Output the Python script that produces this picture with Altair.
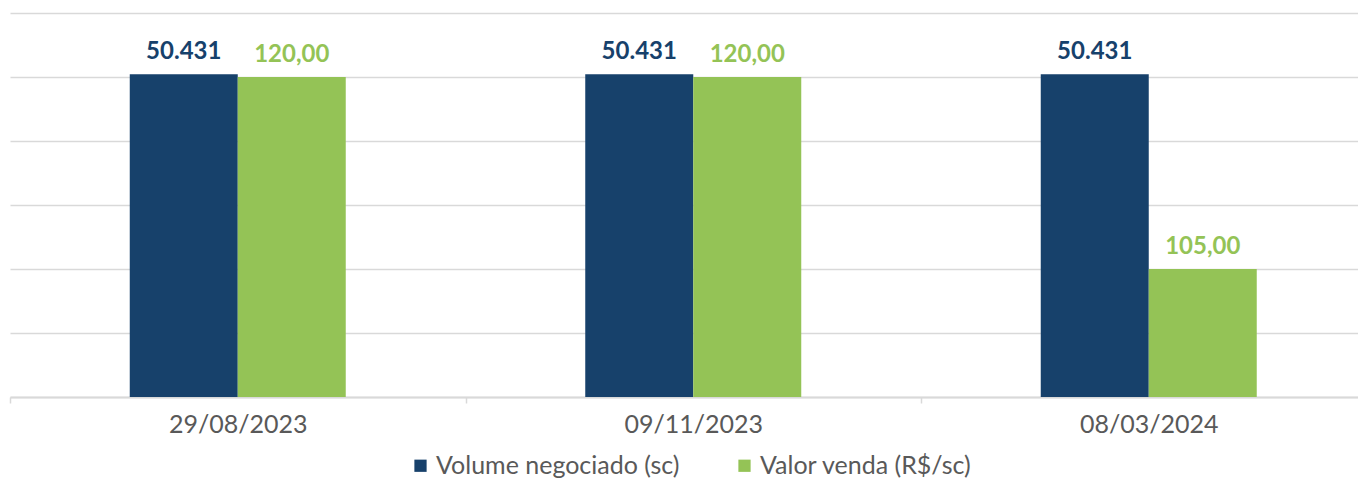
import altair as alt
import pandas as pd

dates = ["29/08/2023", "09/11/2023", "08/03/2024"]
volume = [50431, 50431, 50431]
valor = [120.00, 120.00, 105.00]
series_names = ["Volume negociado (sc)", "Valor venda (R$/sc)"]
colors = ["#17416B", "#94C356"]
vol_ticks = [0, 10000, 20000, 30000, 40000, 50000, 60000]

vol_df = pd.DataFrame({
    "date": dates,
    "series": series_names[0],
    "value": volume,
    "label": [f"{v:,.0f}".replace(",", ".") for v in volume],
})
val_df = pd.DataFrame({
    "date": dates,
    "series": series_names[1],
    "value": valor,
    "label": [f"{v:.2f}".replace(".", ",") for v in valor],
})

FONT = "Lato"

x_enc = alt.X(
    "date:N",
    sort=dates,
    scale=alt.Scale(range=[0, 1366.5], paddingInner=0, paddingOuter=0),
    axis=alt.Axis(
        title=None, labelAngle=0, tickBand="extent", tickSize=6,
        tickColor="#d9d9d9", tickWidth=1.5, domainColor="#d9d9d9", domainWidth=2,
        labelColor="#595959", labelFontSize=25, labelFont=FONT, labelPadding=9,
    ),
)
xoff_enc = alt.XOffset(
    "series:N",
    scale=alt.Scale(domain=series_names, range=[119.75, 335.75], paddingInner=0, paddingOuter=0),
)
color_enc = alt.Color(
    "series:N",
    scale=alt.Scale(domain=series_names, range=colors),
    legend=alt.Legend(
        title=None, orient="none", legendX=398, legendY=440, direction="horizontal",
        padding=0, offset=0,
        symbolType="square", symbolSize=150, symbolStrokeWidth=0, labelFontSize=25,
        labelFont=FONT, labelColor="#595959", columnPadding=52, labelOffset=3,
        symbolOpacity=1, labelLimit=500,
    ),
)

vol_axis = alt.Axis(values=vol_ticks, labels=False, ticks=False, domain=False, title=None,
                    grid=True, gridColor="#d9d9d9", gridWidth=1.5)
vol_scale = alt.Scale(domain=[0, 60000], zero=False, nice=False)
val_scale = alt.Scale(domain=[95, 125], zero=False, nice=False)

vol_bar = alt.Chart(vol_df).mark_bar().encode(
    x=x_enc, xOffset=xoff_enc,
    y=alt.Y("value:Q", scale=vol_scale, axis=vol_axis),
    y2=alt.datum(0), color=color_enc
)
vol_text = alt.Chart(vol_df).mark_text(
    font=FONT, fontSize=24, fontWeight="bold", baseline="alphabetic", dy=-15, color=colors[0]
).encode(x=x_enc, xOffset=xoff_enc,
         y=alt.Y("value:Q", scale=vol_scale, axis=vol_axis), text="label:N")

val_bar = alt.Chart(val_df).mark_bar().encode(
    x=x_enc, xOffset=xoff_enc,
    y=alt.Y("value:Q", scale=val_scale, axis=None),
    y2=alt.datum(95), color=color_enc
)
val_text = alt.Chart(val_df).mark_text(
    font=FONT, fontSize=24, fontWeight="bold", baseline="alphabetic", dy=-15, color=colors[1]
).encode(x=x_enc, xOffset=xoff_enc,
         y=alt.Y("value:Q", scale=val_scale, axis=None), text="label:N")

chart = alt.layer(
    alt.layer(vol_bar, vol_text),
    alt.layer(val_bar, val_text),
).resolve_scale(y="independent").properties(
    width=1348,
    height=384,
    autosize=alt.AutoSizeParams(type="none"),
    padding={"left": 2, "top": 5, "right": 0, "bottom": 85},
).configure_view(stroke=None)

chart.save("out.html", embed_options={"renderer": "svg", "actions": False})
